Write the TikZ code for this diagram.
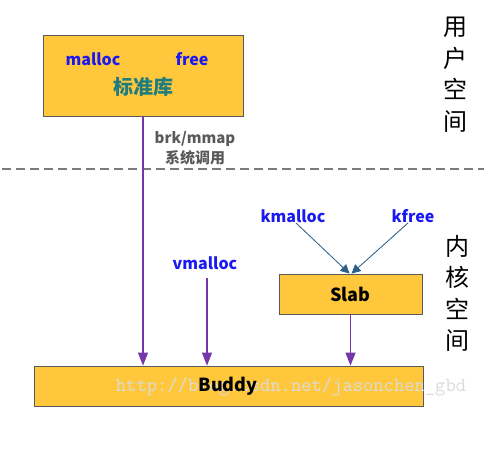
\documentclass[tikz,border=0pt]{standalone}
\usepackage{fontspec}
\setmainfont{Noto Sans CJK SC}
\usetikzlibrary{arrows.meta,positioning}
\definecolor{boxfill}{HTML}{FFC83C}
\definecolor{boxline}{HTML}{5A5A5A}
\definecolor{fnblue}{HTML}{1A1AF0}
\definecolor{libteal}{HTML}{217D7D}
\definecolor{callpurple}{HTML}{7437A8}
\definecolor{slabblue}{HTML}{2E5F86}
\definecolor{notegray}{HTML}{5A5A5A}

\tikzset{
  membox/.style={rectangle, draw=boxline, fill=boxfill, line width=0.8pt, inner sep=0pt},
  fnlabel/.style={text=fnblue, inner sep=1pt, font=\fontsize{16}{18}\selectfont\bfseries},
  spacelabel/.style={align=center, inner sep=0pt, font=\fontsize{24}{31.5}\selectfont},
  callarrow/.style={-{Triangle[width=10pt,length=13pt]}, draw=callpurple, fill=callpurple, line width=1.1pt},
  slabarrow/.style={-{Triangle[width=9pt,length=9pt]}, draw=slabblue, fill=slabblue, line width=0.8pt}
}

\begin{document}
\begin{tikzpicture}[x=1pt,y=-1pt]
\useasboundingbox (0,0) rectangle (500,449);

% user space
\node[membox, minimum width=200pt, minimum height=81pt] (stdlib) at (143,75.5) {};
\node[fnlabel] (malloc) at (93,59) {malloc};
\node[fnlabel] (free) at (192,59) {free};
\node[text=libteal, font=\fontsize{20}{22}\selectfont\bfseries] (libname) at (143,87) {标准库};
\node[spacelabel] (userspace) at (455,74.5) {用\\户\\空\\间};

% boundary
\coordinate (dashL) at (2,169);
\coordinate (dashR) at (484,169);
\draw[notegray!80, line width=1.3pt, dash pattern=on 9pt off 5pt] (dashL) -- (dashR);
\node[text=notegray, align=center, inner sep=0pt, font=\fontsize{15}{20}\selectfont\bfseries] (syscall) at (195,148) {brk/mmap\\系统调用};

% kernel space
\node[membox, minimum width=389pt, minimum height=40pt] (buddy) at (228.5,386) {};
\node[membox, minimum width=143pt, minimum height=40pt] (slab) at (350.5,294) {};
\node[font=\fontsize{18}{20}\selectfont\bfseries] (slabname) at (slab) {Slab};
\node[fnlabel] (vmalloc) at (205,263) {vmalloc};
\node[fnlabel] (kmalloc) at (293,216) {kmalloc};
\node[fnlabel] (kfree) at (413,216) {kfree};
\node[spacelabel] (kernelspace) at (457,293.5) {内\\核\\空\\间};

\coordinate (vmtop) at (207,278);
\coordinate (kmtail) at (296,223);
\coordinate (kftail) at (408,223);

\draw[callarrow] (stdlib.south) -- (stdlib.south |- buddy.north);
\draw[callarrow] (vmtop) -- (vmtop |- buddy.north);
\draw[callarrow] (slab.south) -- (buddy.north -| slab.south);
\draw[slabarrow] (kmtail) -- ([xshift=-1pt]slab.north);
\draw[slabarrow] (kftail) -- ([xshift=1pt]slab.north);

\node[text=black!14, inner sep=0pt, font=\ttfamily\fontsize{20}{20}\selectfont] (watermark) at (291,387) {http://blog.csdn.net/jasonchen\_gbd};
\node[font=\fontsize{18}{20}\selectfont\bfseries] (buddyname) at (228,386) {Buddy};
\end{tikzpicture}
\end{document}
